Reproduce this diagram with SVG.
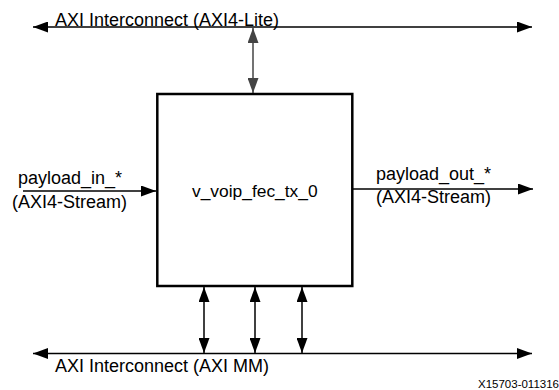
<svg xmlns="http://www.w3.org/2000/svg" width="559" height="390" viewBox="0 0 559 390">
  <style>
    text { font-family: "Liberation Sans", Arial, sans-serif; font-size: 18px; fill: #000; }
    .core { font-size: 17.4px; }
    .small { font-size: 11.5px; }
    .bus { stroke: #000; stroke-width: 1.5; fill: none; }
    .link { stroke: #000; stroke-width: 1.5; fill: none; }
    .grey { stroke: #444; }
    .block { fill: #fff; stroke: #000; stroke-width: 2.5; }
  </style>
  <defs>
    <marker id="head" markerUnits="userSpaceOnUse" markerWidth="15" markerHeight="11" refX="15" refY="5.5" orient="auto-start-reverse">
      <path d="M0,0 L15,5.5 L0,11 z" fill="#000"/>
    </marker>
    <marker id="headGrey" markerUnits="userSpaceOnUse" markerWidth="15" markerHeight="11" refX="15" refY="5.5" orient="auto-start-reverse">
      <path d="M0,0 L15,5.5 L0,11 z" fill="#444"/>
    </marker>
  </defs>

  <!-- connectors: buses and block ports -->
  <g id="connectors">
    <line class="bus" x1="33" y1="27" x2="532" y2="27" marker-start="url(#head)" marker-end="url(#head)"/>
    <line class="bus" x1="33" y1="353.5" x2="532" y2="353.5" marker-start="url(#head)" marker-end="url(#head)"/>
    <line class="link grey" x1="253" y1="28" x2="253" y2="93" marker-start="url(#headGrey)" marker-end="url(#headGrey)"/>
    <line class="link" x1="23" y1="191" x2="156" y2="191" marker-end="url(#head)"/>
    <line class="link" x1="353" y1="189" x2="533" y2="189" marker-end="url(#head)"/>
    <line class="link" x1="204" y1="287" x2="204" y2="353" marker-start="url(#head)" marker-end="url(#head)"/>
    <line class="link" x1="255" y1="287" x2="255" y2="353" marker-start="url(#head)" marker-end="url(#head)"/>
    <line class="link" x1="302" y1="287" x2="302" y2="353" marker-start="url(#head)" marker-end="url(#head)"/>
  </g>

  <!-- AXI4-Lite interconnect bus -->
  <g id="axi-lite-bus">
    <text x="55" y="26">AXI Interconnect (AXI4-Lite)</text>
  </g>

  <!-- FEC transmit core -->
  <g id="v_voip_fec_tx_0">
    <rect class="block" x="157.3" y="94" width="195" height="192"/>
    <text class="core" x="254.8" y="197" text-anchor="middle">v_voip_fec_tx_0</text>
  </g>

  <!-- stream input -->
  <g id="payload-in">
    <text x="18" y="184">payload_in_*</text>
    <text x="12" y="207.5">(AXI4-Stream)</text>
  </g>

  <!-- stream output -->
  <g id="payload-out">
    <text x="376" y="180">payload_out_*</text>
    <text x="376" y="202.5">(AXI4-Stream)</text>
  </g>

  <!-- AXI memory-mapped interconnect bus -->
  <g id="axi-mm-bus">
    <text x="55" y="371.5">AXI Interconnect (AXI MM)</text>
  </g>

  <text class="small" x="559" y="388" text-anchor="end">X15703-011316</text>
</svg>
